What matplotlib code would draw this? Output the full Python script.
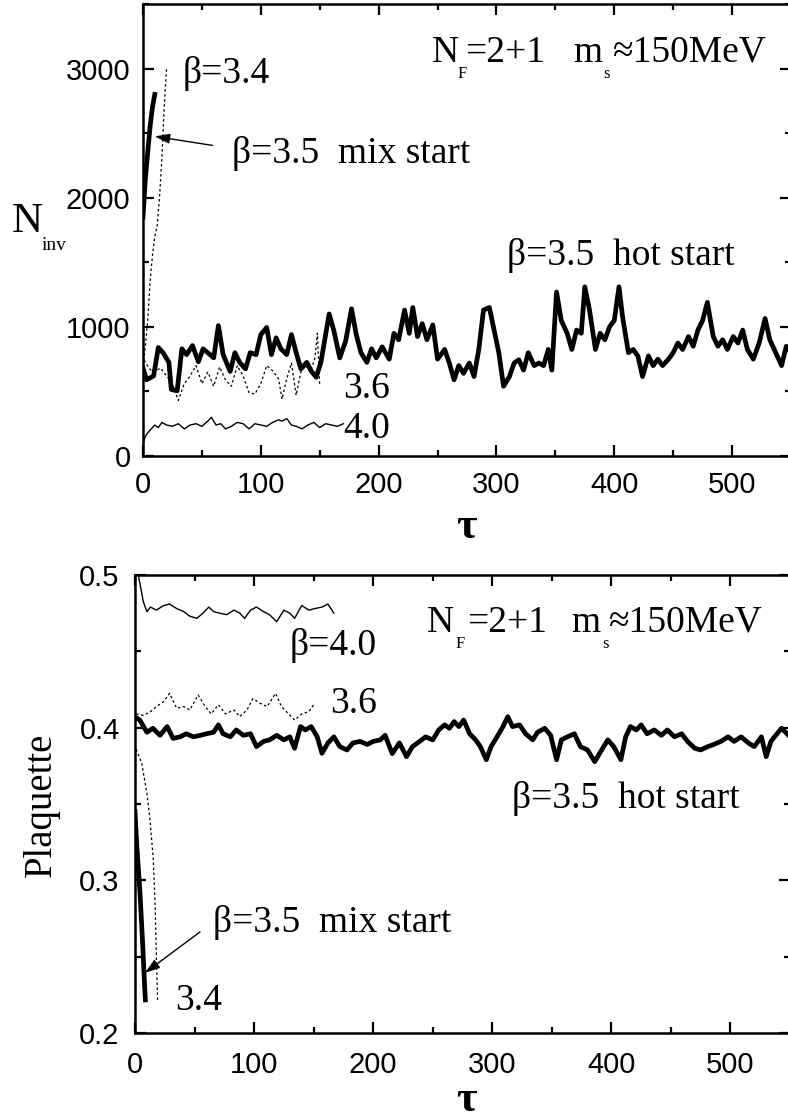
import matplotlib
matplotlib.use("Agg")
import matplotlib.pyplot as plt
from matplotlib.ticker import MultipleLocator

W, H = 788, 1120
SERIF = "Liberation Serif"
SANS = "Liberation Sans"

# ---- top panel: N_inv vs tau ----
hot_tau = [0, 3, 9, 13, 17, 22, 24, 29, 33, 37, 42, 47, 51, 55, 60, 64, 68, 74, 78, 82,
           87, 91, 96, 100, 105, 109, 113, 117, 122, 126, 130, 134, 139, 143, 147, 151,
           155, 158, 162, 167, 172, 177, 181, 185, 190, 194, 198, 203, 209, 213, 217,
           222, 226, 229, 233, 237, 241, 246, 250, 256, 260, 264, 268, 272, 277, 281,
           285, 289, 294, 298, 302, 306, 311, 315, 319, 323, 327, 332, 336, 340, 344,
           347, 351, 355, 360, 364, 368, 372, 375, 379, 384, 388, 392, 396, 400, 404,
           407, 412, 416, 420, 424, 429, 433, 437, 441, 446, 450, 454, 458, 463, 467,
           471, 475, 479, 484, 488, 492, 496, 501, 505, 509, 513, 518, 523, 528, 532,
           537, 542, 546, 550]
hot_ninv = [680, 590, 620, 840, 800, 725, 515, 505, 830, 785, 855, 730, 830, 800, 760,
            1010, 785, 655, 800, 725, 675, 800, 785, 940, 995, 785, 915, 830, 785, 940,
            800, 675, 725, 655, 610, 725, 940, 1100, 970, 760, 890, 1140, 940, 800, 725,
            830, 760, 845, 750, 950, 900, 1130, 950, 1150, 925, 1025, 900, 1015, 750, 825,
            720, 590, 700, 640, 720, 615, 825, 1130, 1150, 975, 800, 540, 615, 720, 745,
            665, 800, 700, 720, 700, 825, 665, 1270, 1050, 950, 825, 975, 950, 1310, 1130,
            825, 950, 900, 1000, 1050, 1310, 1080, 800, 825, 775, 615, 775, 700, 750, 700,
            750, 800, 875, 825, 925, 850, 975, 1050, 1190, 925, 850, 900, 825, 925, 875,
            975, 825, 750, 875, 1065, 900, 800, 700, 850, 800]

b36_tau = [0, 2, 8, 15, 20, 25, 30, 35, 40, 45, 50, 55, 60, 65, 70, 75, 80, 85, 90, 95,
           100, 105, 110, 115, 118, 122, 126, 130, 134, 138, 142, 146, 148, 150]
b36_ninv = [780, 720, 650, 680, 620, 560, 430, 560, 620, 700, 560, 650, 540, 690, 590,
            540, 700, 620, 490, 480, 560, 700, 660, 600, 440, 600, 720, 470, 650, 700,
            650, 760, 950, 540]

b40_tau = [0, 2, 4, 6, 10, 13, 16, 20, 25, 30, 35, 40, 45, 50, 55, 58, 62, 66, 70, 75,
           80, 85, 90, 95, 100, 105, 110, 115, 118, 122, 126, 130, 135, 140, 145, 150,
           155, 160, 165, 170]
b40_ninv = [100, 150, 180, 200, 240, 220, 260, 240, 230, 250, 210, 240, 250, 230, 270,
            300, 240, 250, 210, 230, 260, 250, 210, 250, 240, 230, 260, 280, 270, 290,
            240, 230, 210, 240, 260, 220, 250, 240, 230, 250]

b34_tau = [0, 2, 4, 6, 8, 10, 12, 14, 16, 18, 20]
b34_ninv = [700, 850, 1050, 1350, 1550, 1700, 1780, 2000, 2300, 2700, 3000]

mix_tau = [0, 2, 4, 6, 8, 10]
mix_ninv = [1850, 2150, 2350, 2550, 2700, 2800]

# ---- bottom panel: plaquette vs tau ----
hotp_tau = [0, 4, 10, 15, 21, 27, 32, 38, 43, 49, 55, 60, 66, 70, 74, 80, 85, 91, 97,
            102, 108, 113, 119, 125, 130, 134, 139, 143, 148, 153, 157, 162, 167, 172,
            178, 183, 189, 195, 200, 206, 210, 216, 222, 228, 233, 239, 244, 250, 255,
            260, 264, 268, 272, 276, 281, 286, 290, 295, 299, 304, 309, 313, 317, 323,
            328, 334, 338, 344, 349, 354, 358, 363, 369, 374, 380, 386, 391, 397, 402,
            408, 412, 416, 421, 425, 430, 436, 442, 447, 453, 459, 464, 470, 475, 481,
            486, 492, 498, 503, 509, 515, 520, 526, 530, 534, 538, 543, 550]
hotp_plaq = [0.407, 0.405, 0.397, 0.3996, 0.395, 0.4007, 0.393, 0.394, 0.396, 0.394,
             0.395, 0.396, 0.397, 0.4018, 0.396, 0.394, 0.3985, 0.395, 0.396, 0.3876,
             0.391, 0.392, 0.395, 0.392, 0.394, 0.3865, 0.4007, 0.3985, 0.4007, 0.394,
             0.3832, 0.390, 0.394, 0.3876, 0.3854, 0.390, 0.391, 0.389, 0.391, 0.392,
             0.395, 0.383, 0.390, 0.381, 0.3876, 0.391, 0.394, 0.392, 0.3985, 0.4018,
             0.3996, 0.404, 0.4007, 0.405, 0.396, 0.392, 0.3876, 0.379, 0.3876, 0.394,
             0.4007, 0.4072, 0.4007, 0.4018, 0.396, 0.392, 0.397, 0.3996, 0.395, 0.379,
             0.392, 0.394, 0.396, 0.3876, 0.3854, 0.3777, 0.3843, 0.392, 0.3876, 0.379,
             0.394, 0.4007, 0.3985, 0.4018, 0.396, 0.3985, 0.395, 0.3985, 0.394, 0.396,
             0.391, 0.3865, 0.3854, 0.3876, 0.389, 0.391, 0.394, 0.391, 0.394, 0.390,
             0.3876, 0.394, 0.381, 0.391, 0.395, 0.3996, 0.394]

b36p_tau = [1, 7, 13, 18, 24, 29, 35, 41, 46, 53, 59, 64, 70, 76, 83, 88, 94, 99, 105,
            111, 118, 123, 129, 134, 140, 146, 150]
b36p_plaq = [0.409, 0.408, 0.4105, 0.4138, 0.417, 0.4225, 0.4127, 0.4138, 0.4116,
             0.4214, 0.4138, 0.409, 0.415, 0.409, 0.4116, 0.4072, 0.4116, 0.419, 0.416,
             0.4138, 0.4225, 0.4138, 0.409, 0.405, 0.409, 0.4105, 0.415]

b40p_tau = [3, 7, 10, 13, 18, 24, 29, 35, 41, 46, 52, 57, 62, 66, 71, 77, 83, 88, 92,
            97, 102, 108, 113, 119, 125, 130, 134, 140, 146, 151, 157, 162, 167]
b40p_plaq = [0.499, 0.4825, 0.476, 0.479, 0.477, 0.480, 0.481, 0.478, 0.476, 0.473,
             0.4716, 0.475, 0.479, 0.476, 0.475, 0.474, 0.477, 0.475, 0.4716, 0.477,
             0.479, 0.476, 0.474, 0.4694, 0.477, 0.475, 0.4716, 0.480, 0.477, 0.478,
             0.479, 0.481, 0.475]

b34p_tau = [0, 1.4, 5.6, 10, 12.6, 15.4, 17, 18, 19]
b34p_plaq = [0.389, 0.385, 0.377, 0.357, 0.340, 0.313, 0.281, 0.248, 0.220]

mixp_tau = [0, 1.4, 4.2, 6.4, 7.8, 8.7]
mixp_plaq = [0.345, 0.324, 0.2915, 0.259, 0.235, 0.2217]


def fx(x):
    return x / W


def fy(y):
    return 1 - y / H


def style_axes(ax, xmaj, xmin, ymaj, ymin):
    ax.xaxis.set_major_locator(MultipleLocator(xmaj))
    ax.xaxis.set_minor_locator(MultipleLocator(xmin))
    ax.yaxis.set_major_locator(MultipleLocator(ymaj))
    ax.yaxis.set_minor_locator(MultipleLocator(ymin))
    ax.tick_params(which="both", direction="in", top=True, right=True, width=1.6)
    ax.tick_params(which="major", length=8)
    ax.tick_params(which="minor", length=4)
    for sp in ax.spines.values():
        sp.set_linewidth(1.8)
    for lab in ax.get_xticklabels() + ax.get_yticklabels():
        lab.set_fontfamily(SANS)
        lab.set_fontsize(21)


def put(fig, s, x, y, size=27, **kw):
    fig.text(fx(x), fy(y), s, fontsize=size, family=SERIF, va="baseline", ha="left", **kw)


def nf_label(fig, x0, base, xs):
    put(fig, "N", x0, base)
    put(fig, "F", xs[0], base + 16, size=12)
    put(fig, "=2+1", xs[1], base)
    put(fig, "m", xs[2], base)
    put(fig, "s", xs[3], base + 16, size=12)
    put(fig, "\u2248150MeV", xs[4], base)


fig = plt.figure(figsize=(W / 100, H / 100), dpi=100)

# top panel
ax1 = fig.add_axes([fx(143), fy(456), (791 - 143) / W, (456 - 4) / H])
ax1.plot(hot_tau, hot_ninv, color="black", lw=3.4)
ax1.plot(b36_tau, b36_ninv, color="black", lw=0.9, ls=(0, (2, 2)))
ax1.plot(b40_tau, b40_ninv, color="black", lw=1.0)
ax1.plot(b34_tau, b34_ninv, color="black", lw=0.9, ls=(0, (2, 2)))
ax1.plot(mix_tau, mix_ninv, color="black", lw=3.4)
ax1.set_xlim(0, 550)
ax1.set_ylim(0, 3500)
ax1.tick_params(axis="x", pad=11)
ax1.tick_params(axis="y", pad=9)
style_axes(ax1, 100, 50, 1000, 500)
ax1.annotate("", xy=(10, 2475), xytext=(59, 2405),
             arrowprops=dict(arrowstyle="-|>,head_length=0.9,head_width=0.3",
                             color="black", lw=1.0, shrinkA=0, shrinkB=0))

put(fig, "\u03b2=3.4", 183, 83)
put(fig, "\u03b2=3.5  mix start", 232, 163)
put(fig, "\u03b2=3.5  hot start", 507, 265)
put(fig, "3.6", 343, 398)
put(fig, "4.0", 343, 438)
nf_label(fig, 432, 62, [458, 465, 573, 603, 613])
put(fig, "N", 12, 232, size=31)
put(fig, "inv", 42, 250, size=14)
fig.text(fx(466), fy(527), "\u03c4", fontsize=32, family=SERIF, weight="bold",
         ha="center", va="center")

# bottom panel
ax2 = fig.add_axes([fx(135), fy(1033), (790 - 135) / W, (1033 - 575) / H])
ax2.plot(hotp_tau, hotp_plaq, color="black", lw=3.4)
ax2.plot(b36p_tau, b36p_plaq, color="black", lw=0.9, ls=(0, (2, 2)))
ax2.plot(b40p_tau, b40p_plaq, color="black", lw=1.0)
ax2.plot(b34p_tau, b34p_plaq, color="black", lw=0.9, ls=(0, (2, 2)))
ax2.plot(mixp_tau, mixp_plaq, color="black", lw=3.4)
ax2.set_xlim(0, 550)
ax2.set_ylim(0.2, 0.5)
ax2.tick_params(axis="x", pad=13)
ax2.tick_params(axis="y", pad=11)
style_axes(ax2, 100, 50, 0.1, 0.05)
ax2.annotate("", xy=(8.4, 0.2394), xytext=(54.6, 0.2662),
             arrowprops=dict(arrowstyle="-|>,head_length=0.9,head_width=0.3",
                             color="black", lw=1.0, shrinkA=0, shrinkB=0))

put(fig, "\u03b2=4.0", 290, 655)
put(fig, "3.6", 330, 713)
put(fig, "\u03b2=3.5  hot start", 512, 808)
put(fig, "\u03b2=3.5  mix start", 213, 932)
put(fig, "3.4", 175, 1010)
nf_label(fig, 427, 632, [456, 467, 571, 602, 609])
fig.text(fx(41), fy(805), "Plaquette", fontsize=28, family=SERIF, rotation=90,
         ha="center", va="center")
fig.text(fx(466), fy(1100), "\u03c4", fontsize=32, family=SERIF, weight="bold",
         ha="center", va="center")

fig.savefig("out.png", dpi=100)
